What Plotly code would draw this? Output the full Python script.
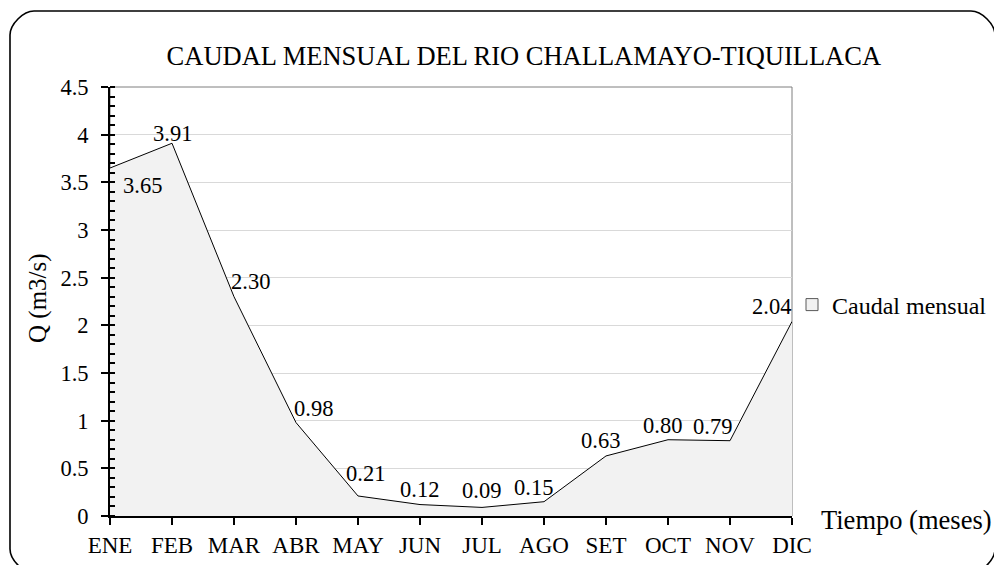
""" Caudal mensual del rio Challamayo-Tiquillaca """

import plotly.graph_objects as go

meses = ["ENE", "FEB", "MAR", "ABR", "MAY", "JUN",
         "JUL", "AGO", "SET", "OCT", "NOV", "DIC"]
caudal = [3.65, 3.91, 2.30, 0.98, 0.21, 0.12,
          0.09, 0.15, 0.63, 0.80, 0.79, 2.04]
# offset (px) of each data label from its point, as in the original chart
dx_etiqueta = [32, 0, 16, 17, 7, -1, -1, -11, -6, -6, -18, -21]
dy_etiqueta = [-17, 10, 15, 14, 22, 15, 17, 14, 15, 14, 14, 15]

FONT = "Liberation Serif"
W, H = 994, 565
L, R, T, B = 110, 202, 87, 49
pw, ph = W - L - R, H - T - B


def px(x, y):
    # pixel -> paper coords
    return (x - L) / pw, (H - B - y) / ph


def rounded_rect(x0, y0, x1, y1, r):
    k = 0.45 * r
    pts = [
        ("M", [(x0 + r, y0)]),
        ("L", [(x1 - r, y0)]),
        ("C", [(x1 - r + k, y0), (x1, y0 + r - k), (x1, y0 + r)]),
        ("L", [(x1, y1 - r)]),
        ("C", [(x1, y1 - r + k), (x1 - r + k, y1), (x1 - r, y1)]),
        ("L", [(x0 + r, y1)]),
        ("C", [(x0 + r - k, y1), (x0, y1 - r + k), (x0, y1 - r)]),
        ("L", [(x0, y0 + r)]),
        ("C", [(x0, y0 + r - k), (x0 + r - k, y0), (x0 + r, y0)]),
    ]
    s = ""
    for cmd, ps in pts:
        s += cmd + " " + " ".join("%.5f,%.5f" % px(a, b) for a, b in ps) + " "
    return s + "Z"


area = go.Scatter(
    x=meses, y=caudal,
    mode="lines",
    fill="tozeroy",
    fillcolor="#f2f2f2",
    line=dict(color="black", width=1),
    showlegend=False,
)
leyenda = go.Scatter(
    x=[None], y=[None], mode="markers", name="Caudal mensual",
    marker=dict(symbol="square", size=12, color="#f2f2f2",
                line=dict(color="#595959", width=1)),
)

etiquetas = [
    dict(x=m, y=v, text="%.2f" % v, xshift=dx, yshift=dy, showarrow=False,
         xref="x", yref="y", font=dict(family=FONT, size=22.5))
    for m, v, dx, dy in zip(meses, caudal, dx_etiqueta, dy_etiqueta)
]

fig = go.Figure([area, leyenda])
fig.update_layout(
    width=W, height=H,
    margin=dict(l=L, r=R, t=T, b=B, autoexpand=False),
    paper_bgcolor="white", plot_bgcolor="white",
    font=dict(family=FONT, size=22, color="black"),
    title=dict(text="CAUDAL MENSUAL DEL RIO CHALLAMAYO-TIQUILLACA",
               x=0.527, xanchor="center", y=1 - 56 / H, yanchor="middle",
               font=dict(family=FONT, size=26.5)),
    legend=dict(x=px(792, 0)[0], xanchor="left", y=px(0, 305)[1],
                yanchor="middle", font=dict(family=FONT, size=24),
                bgcolor="rgba(0,0,0,0)"),
    shapes=[
        dict(type="rect", xref="x domain", yref="y domain",
             x0=0, x1=1, y0=0, y1=1, line=dict(color="#7f7f7f", width=1),
             layer="below"),
        dict(type="path", xref="paper", yref="paper",
             path=rounded_rect(10, 11, 995, 573, 24),
             line=dict(color="black", width=1.6)),
    ],
    annotations=etiquetas + [
        dict(text="Tiempo (meses)", xref="paper", yref="paper",
             x=px(819, 0)[0], y=px(0, 520)[1], xanchor="left",
             yanchor="middle", showarrow=False,
             font=dict(family=FONT, size=26.5)),
        dict(text="Q (m3/s)", xref="paper", yref="paper", textangle=-90,
             x=px(38, 0)[0], y=px(0, 298)[1], xanchor="center",
             yanchor="middle", showarrow=False,
             font=dict(family=FONT, size=25)),
    ],
)
fig.update_xaxes(
    type="category", range=[0, len(meses) - 1], automargin=False,
    showgrid=False, showline=True, linecolor="black", linewidth=2,
    ticks="outside", ticklen=7, tickwidth=1.5, tickcolor="black",
    zeroline=False, tickfont=dict(family=FONT, size=23),
)
fig.update_yaxes(
    range=[0, 4.5], dtick=0.5, automargin=False,
    showgrid=True, gridcolor="#d9d9d9", gridwidth=1,
    showline=True, linecolor="black", linewidth=2,
    ticks="outside", ticklen=7, tickwidth=1.5, tickcolor="black",
    ticklabelstandoff=8, tickfont=dict(family=FONT, size=22.5),
    minor=dict(dtick=0.1, ticks="inside", ticklen=5, tickwidth=1.5,
               tickcolor="black", showgrid=False),
    zeroline=False,
)

fig.write_html("out.html", config={"displayModeBar": False},
               post_script="document.body.style.margin='0';")
